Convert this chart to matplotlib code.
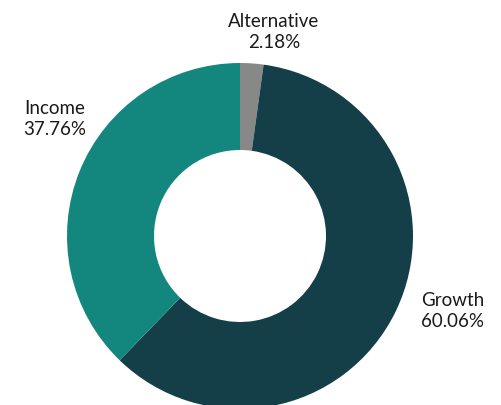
import matplotlib
matplotlib.use('Agg')
import matplotlib.pyplot as plt

# Data
labels = ['Alternative', 'Growth', 'Income']
shares = [2.18, 60.06, 37.76]
colors = ['#888888', '#153f48', '#13877e']

plt.rcParams['font.family'] = ['Lato', 'DejaVu Sans']

W, H = 501, 405
fig = plt.figure(figsize=(W / 100, H / 100), dpi=100)
ax = fig.add_axes([0, 0, 1, 1])

# Donut, drawn in pixel-like coordinates (y measured from bottom)
cx, cy, r = 240, H - 236, 173
ax.pie(shares, colors=colors, startangle=90, counterclock=False,
       center=(cx, cy), radius=r, frame=True,
       wedgeprops=dict(width=r - 86, linewidth=0))
ax.set_xlim(0, W)
ax.set_ylim(0, H)
ax.set_aspect('equal')
ax.axis('off')

# Labels
label_pos = {
    'Alternative': (274, H - 32, 'center'),
    'Growth': (421, H - 311, 'left'),
    'Income': (55, H - 119, 'center'),
}
for name, val in zip(labels, shares):
    x, y, ha = label_pos[name]
    ax.text(x, y, f'{name}\n{val:.2f}%', ha=ha, va='center',
            fontsize=13.5, color='#1a1a1a', linespacing=1.32)

fig.savefig('out.png', dpi=100)
